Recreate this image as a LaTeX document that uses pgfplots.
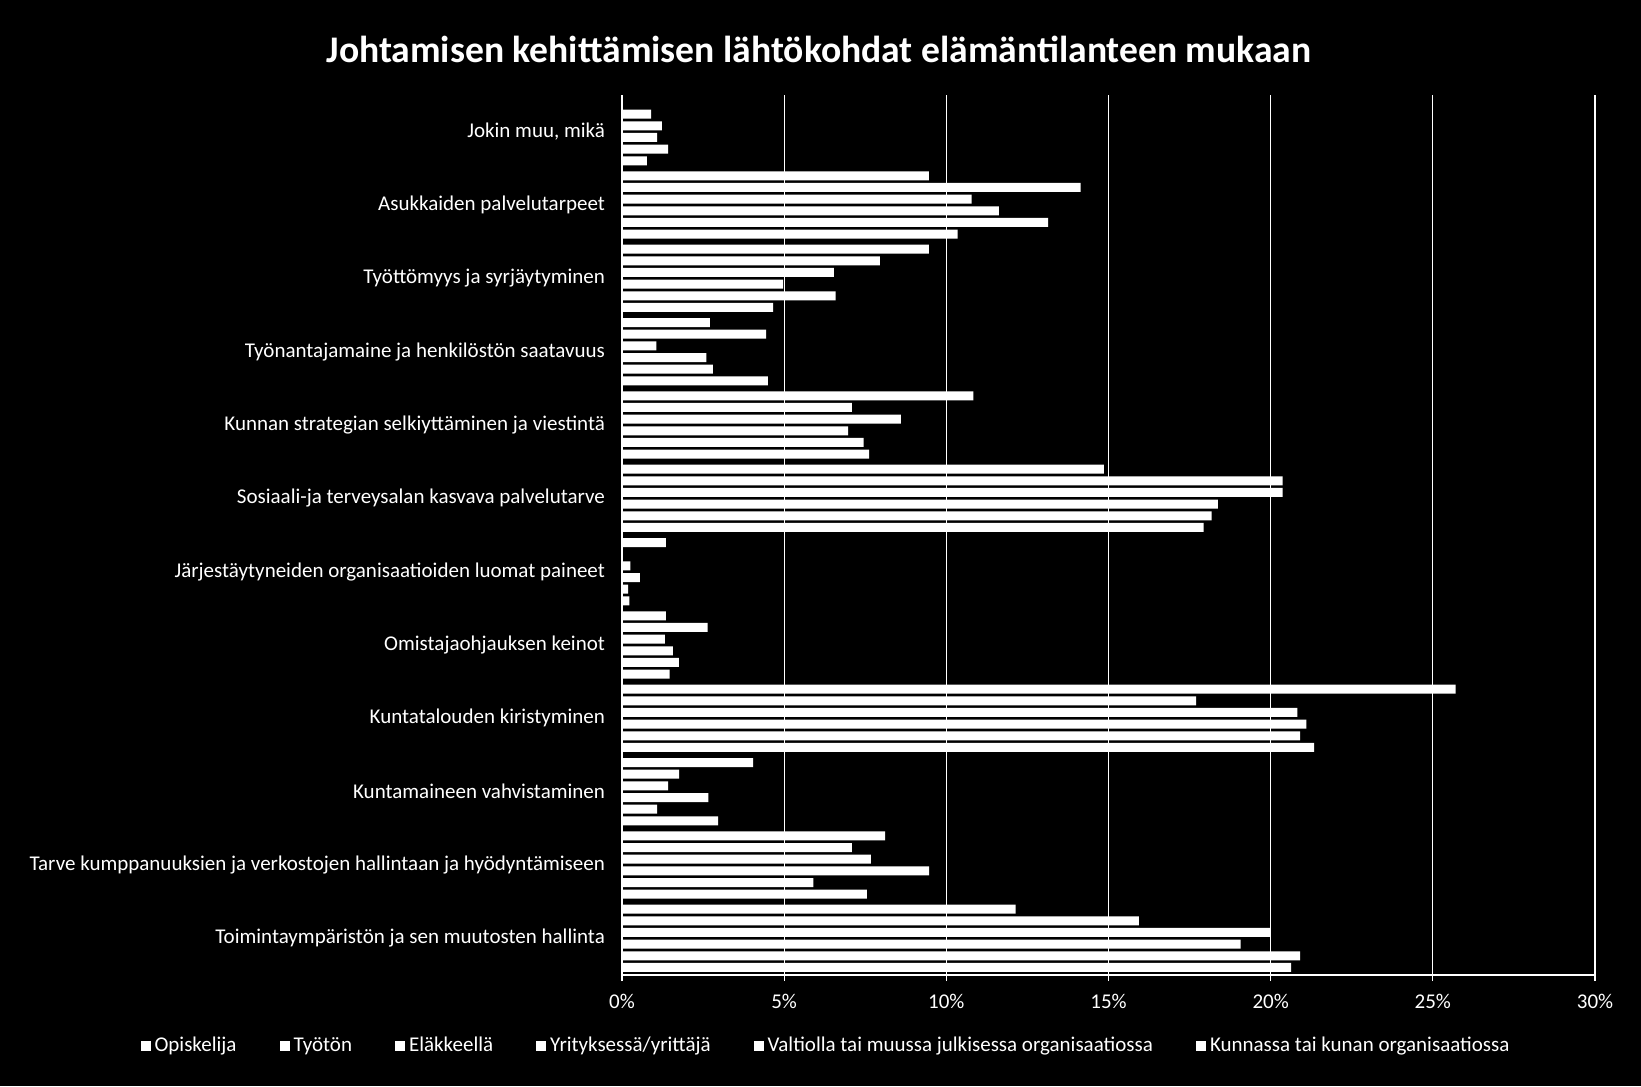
\documentclass[border=0pt]{standalone}
\usepackage{pgfplots}
\pgfplotsset{compat=1.18}
\usepackage{pgfplotstable}
\usepackage{fontspec}
\setmainfont{Carlito}

% y: 0 = bottom category ... 11 = top category
\pgfplotstableread{
y O T E Y V K
0 20.63 20.91 19.07 19.98 15.94 12.14
1 7.55 5.90 9.47 7.67 7.09 8.11
2 2.96 1.08 2.66 1.42 1.76 4.04
3 21.34 20.91 21.10 20.82 17.70 25.70
4 1.47 1.75 1.57 1.32 2.64 1.35
5 0.23 0.19 0.55 0.26 0 1.35
6 17.93 18.18 18.37 20.37 20.37 14.86
7 7.62 7.45 6.97 8.60 7.09 10.83
8 4.50 2.80 2.60 1.06 4.44 2.71
9 4.66 6.59 4.97 6.53 7.95 9.46
10 10.35 13.14 11.62 10.78 14.14 9.46
11 0.77 1.42 1.08 1.23 0.90 0
}\data

\begin{document}
\begin{tikzpicture}
\fill[black] (0pt,0pt) rectangle (820.5pt,543pt);
\node[text=white,font=\fontsize{18.8}{21}\selectfont\bfseries] at (409.5pt,518.5pt) {Johtamisen kehittämisen lähtökohdat elämäntilanteen mukaan};
\begin{axis}[
  at={(311pt,55.5pt)}, anchor=south west,
  scale only axis, width=486.5pt, height=440pt,
  xbar, bar width=4.5pt,
  xmin=0, xmax=30, ymin=-0.5, ymax=11.5,
  axis x line*=bottom, axis y line*=left,
  axis line style={white, line width=0.7pt, -},
  xtick={0,5,10,15,20,25,30},
  xticklabels={0\%,5\%,10\%,15\%,20\%,25\%,30\%},
  xmajorgrids, grid style={white, line width=0.6pt},
  tick align=outside, xtick style={white, line width=0.6pt}, major tick length=3pt,
  ytick={0,...,11},
  ytick style={draw=none},
  yticklabels={Toimintaympäristön ja sen muutosten hallinta,
    Tarve kumppanuuksien ja verkostojen hallintaan ja hyödyntämiseen,
    Kuntamaineen vahvistaminen,
    Kuntatalouden kiristyminen,
    Omistajaohjauksen keinot,
    Järjestäytyneiden organisaatioiden luomat paineet,
    Sosiaali-ja terveysalan kasvava palvelutarve,
    Kunnan strategian selkiyttäminen ja viestintä,
    Työnantajamaine ja henkilöstön saatavuus,
    Työttömyys ja syrjäytyminen,
    Asukkaiden palvelutarpeet,
    {Jokin muu, mikä}},
  tick label style={text=white, font=\fontsize{10.5}{12}\selectfont},
  xticklabel style={yshift=-3pt},
  yticklabel style={xshift=-2pt},
  legend columns=6,
  legend style={at={(0.2107,-0.0807)}, anchor=center, draw=none, fill=none,
    text=white, font=\fontsize{10.5}{12}\selectfont,
    /tikz/every even column/.append style={column sep=19.5pt}},
  mybar/.style={fill=white, draw=none,
    legend image code/.code={\fill[white] (0pt,-2.6pt) rectangle (5pt,2.6pt);}},
]
\addplot[mybar, bar shift=-14.58pt] table[x=O, y=y] {\data};
\addlegendentry{Opiskelija}
\addplot[mybar, bar shift=-8.75pt] table[x=T, y=y] {\data};
\addlegendentry{Työtön}
\addplot[mybar, bar shift=-2.92pt] table[x=E, y=y] {\data};
\addlegendentry{Eläkkeellä}
\addplot[mybar, bar shift=2.92pt] table[x=Y, y=y] {\data};
\addlegendentry{Yrityksessä/yrittäjä}
\addplot[mybar, bar shift=8.75pt] table[x=V, y=y] {\data};
\addlegendentry{Valtiolla tai muussa julkisessa organisaatiossa}
\addplot[mybar, bar shift=14.58pt] table[x=K, y=y] {\data};
\addlegendentry{Kunnassa tai kunan organisaatiossa}
\end{axis}
\end{tikzpicture}
\end{document}
